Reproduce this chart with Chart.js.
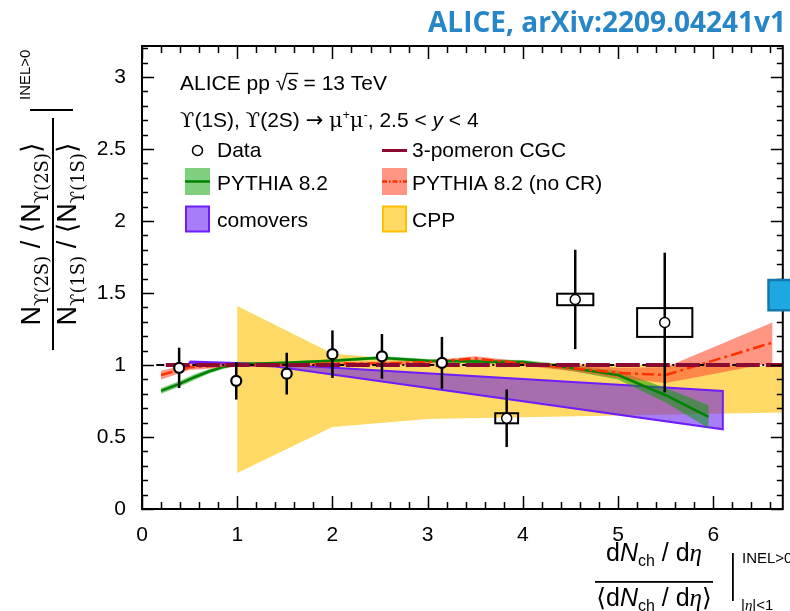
<!DOCTYPE html>
<html lang="en">
<head>
<meta charset="UTF-8">
<title>Upsilon(2S)/Upsilon(1S) self-normalised ratio</title>
<script src="https://cdn.jsdelivr.net/npm/chart.js"></script>
<style>
  html, body { margin: 0; padding: 0; background: #fff; }
  #wrap { width: 790px; height: 611px; }
</style>
</head>
<body>
<div id="wrap"><canvas id="ratioChart" width="790" height="611"></canvas></div>
<script>
// ALICE data points: x, ratio, stat. error, syst. box half sizes
const dataX   = [0.39, 0.99, 1.52, 2.00, 2.52, 3.15, 3.83, 4.55, 5.49];
const dataY   = [0.98, 0.89, 0.94, 1.075, 1.06, 1.015, 0.63, 1.455, 1.295];
const dataErr = [0.14, 0.13, 0.145, 0.165, 0.155, 0.18, 0.20, 0.345, 0.485];
const sysX    = [0.025, 0.025, 0.03, 0.035, 0.035, 0.035, 0.12, 0.19, 0.29];
const sysY    = [0.012, 0.015, 0.015, 0.015, 0.015, 0.015, 0.035, 0.04, 0.10];

// extra box sitting on the right edge
const sideX = [6.9];
const sideY = [1.485];
const sideBoxX = [0.32];
const sideBoxY = [0.105];

// PYTHIA 8.2 (with CR)
const pythiaX   = [0.2, 0.4, 0.55, 0.7, 0.85, 1.0, 1.5, 2.0, 2.5, 3.0, 3.5, 4.0, 4.5, 5.0, 5.5, 5.95];
const pythiaY   = [0.82, 0.87, 0.915, 0.955, 0.985, 1.005, 1.015, 1.03, 1.05, 1.03, 1.025, 1.02, 0.98, 0.93, 0.79, 0.64];
const pythiaErr = [0.02, 0.02, 0.02, 0.015, 0.012, 0.01, 0.01, 0.01, 0.012, 0.012, 0.015, 0.015, 0.02, 0.03, 0.05, 0.08];

// PYTHIA 8.2 (no CR)
const nocrX   = [0.2, 0.5, 1.0, 1.5, 2.0, 2.5, 3.0, 3.5, 4.0, 4.5, 5.0, 5.5, 6.62];
const nocrY   = [0.93, 0.985, 1.0, 1.0, 1.01, 1.01, 1.02, 1.045, 1.01, 0.98, 0.945, 0.93, 1.155];
const nocrErr = [0.03, 0.02, 0.012, 0.01, 0.012, 0.012, 0.012, 0.015, 0.015, 0.02, 0.035, 0.055, 0.14];

// comovers band
const comovX    = [0.5, 1.4, 6.1];
const comovHigh = [1.025, 1.005, 0.82];
const comovLow  = [1.015, 0.99, 0.553];

// CPP band
const cppX    = [1.0, 2.0, 3.0, 6.73];
const cppHigh = [1.41, 1.08, 1.02, 0.99];
const cppLow  = [0.25, 0.57, 0.625, 0.67];

// 3-pomeron CGC and unity reference line
const cgcX = [0.25, 6.73];
const cgcY = [1.0, 1.0];
const unityX = [0.15, 6.73];
const unityY = [1.0, 1.0];

const xTicks = [0, 1, 2, 3, 4, 5, 6];
const yTicks = [0, 0.5, 1, 1.5, 2, 2.5, 3];
const X_MAX = 6.73, Y_MAX = 3.215;

const SANS = "'Liberation Sans', Arial, 'DejaVu Sans', sans-serif";
const SERIF = "'DejaVu Serif', 'Liberation Serif', serif";
const DJV = "'DejaVu Sans', sans-serif";

const pts = (xs, ys) => xs.map((x, i) => ({ x, y: ys[i] }));

// closed outline: upper edge left->right, lower edge back
function band(xs, hi, lo) {
  const out = pts(xs, hi);
  for (let i = xs.length - 1; i >= 0; i--) out.push({ x: xs[i], y: lo[i] });
  out.push({ x: xs[0], y: hi[0] });
  return out;
}

const C = {
  green: 'rgb(0,130,0)', greenBand: 'rgba(0,160,0,0.5)',
  red: 'rgb(255,50,0)', redBand: 'rgba(255,80,50,0.6)',
  purple: 'rgb(110,30,250)', purpleFill: 'rgba(92,16,236,0.54)',
  yellow: 'rgb(255,217,102)', yellowEdge: 'rgb(255,192,0)',
  maroon: 'rgb(140,10,50)', blue: 'rgb(30,167,224)', blueEdge: 'rgb(20,120,170)'
};

// ---- text helpers ----
const P = (t, size, o = {}) => ({ t, f: (o.it ? 'italic ' : '') + size + 'px ' + (o.fam || SANS), dy: o.dy || 0 });
function drawRich(ctx, parts, x, y, align) {
  let w = 0;
  parts.forEach(p => { ctx.font = p.f; w += ctx.measureText(p.t).width; });
  let cx = align === 'center' ? x - w / 2 : (align === 'right' ? x - w : x);
  ctx.textAlign = 'left';
  ctx.textBaseline = 'alphabetic';
  parts.forEach(p => {
    ctx.font = p.f;
    ctx.fillText(p.t, cx, y + p.dy);
    cx += ctx.measureText(p.t).width;
  });
  return w;
}

// error bars + systematic boxes, drawn under the markers
const errorBars = {
  id: 'errorBars',
  beforeDatasetDraw(chart, args) {
    if (args.index !== 0) return;
    const { ctx, scales: { x, y } } = chart;
    ctx.save();
    ctx.strokeStyle = '#000';
    dataX.forEach((vx, i) => {
      const px = x.getPixelForValue(vx);
      ctx.lineWidth = 2.5;
      ctx.beginPath();
      ctx.moveTo(px, y.getPixelForValue(dataY[i] + dataErr[i]));
      ctx.lineTo(px, y.getPixelForValue(dataY[i] - dataErr[i]));
      ctx.stroke();
      const l = x.getPixelForValue(vx - sysX[i]), r = x.getPixelForValue(vx + sysX[i]);
      const t = y.getPixelForValue(dataY[i] + sysY[i]), b = y.getPixelForValue(dataY[i] - sysY[i]);
      ctx.lineWidth = 2;
      ctx.strokeRect(l, t, r - l, b - t);
    });
    ctx.restore();
  }
};

// frame, inward ticks, legend and axis titles
const decorations = {
  id: 'decorations',
  afterDraw(chart) {
    const { ctx, chartArea: a, scales: { x, y } } = chart;
    ctx.save();
    ctx.strokeStyle = '#000';
    ctx.fillStyle = '#000';

    // ticks on all four sides
    ctx.lineWidth = 1.5;
    ctx.beginPath();
    for (let i = 0; i * 0.2 <= X_MAX + 1e-9; i++) {
      const px = Math.round(x.getPixelForValue(i * 0.2)) + 0.5;
      const len = i % 5 === 0 ? 13 : 7;
      ctx.moveTo(px, a.bottom); ctx.lineTo(px, a.bottom - len);
      ctx.moveTo(px, a.top); ctx.lineTo(px, a.top + len);
    }
    for (let i = 0; i * 0.1 <= Y_MAX + 1e-9; i++) {
      const py = Math.round(y.getPixelForValue(i * 0.1)) + 0.5;
      const len = i % 5 === 0 ? 12 : 6;
      ctx.moveTo(a.left, py); ctx.lineTo(a.left + len, py);
      ctx.moveTo(a.right, py); ctx.lineTo(a.right - len, py);
    }
    ctx.stroke();
    ctx.lineWidth = 2;
    ctx.strokeRect(a.left, a.top, a.right - a.left, a.bottom - a.top);

    // box on the right edge
    sideX.forEach((vx, i) => {
      const l = x.getPixelForValue(vx - sideBoxX[i]), r = x.getPixelForValue(vx + sideBoxX[i]);
      const t = y.getPixelForValue(sideY[i] + sideBoxY[i]), b = y.getPixelForValue(sideY[i] - sideBoxY[i]);
      ctx.fillStyle = C.blue;
      ctx.fillRect(l, t, r - l, b - t);
      ctx.strokeStyle = C.blueEdge;
      ctx.lineWidth = 2.5;
      ctx.strokeRect(l, t, r - l, b - t);
    });
    ctx.strokeStyle = '#000';
    ctx.fillStyle = '#000';

    // header text
    const FS = 21;
    drawRich(ctx, [P('ALICE pp ', FS), P('\u221A', FS), P('s', FS, { it: true }), P(' = 13 TeV', FS)], 180, 90, 'left');
    ctx.font = FS + 'px ' + SANS;
    const sx = 180 + ctx.measureText('ALICE pp \u221A').width;
    ctx.lineWidth = 1.3;
    ctx.beginPath(); ctx.moveTo(sx - 1, 73.5); ctx.lineTo(sx + 11, 73.5); ctx.stroke();
    drawRich(ctx, [
      P('\u03D2', FS, { fam: SERIF }), P('(1S), ', FS), P('\u03D2', FS, { fam: SERIF }), P('(2S) ', FS), P('\u2192', FS, { fam: DJV }), P(' ', FS),
      P('\u03BC', FS, { fam: SERIF }), P('+', 12, { dy: -8 }), P('\u03BC', FS, { fam: SERIF }), P('-', 13, { dy: -8 }),
      P(', 2.5 < ', FS), P('y', FS, { it: true }), P(' < 4', FS)
    ], 180, 127, 'left');

    // legend
    ctx.font = FS + 'px ' + SANS;
    ctx.textBaseline = 'alphabetic';
    ctx.lineWidth = 1.5;
    ctx.beginPath(); ctx.arc(197.5, 150.5, 5, 0, Math.PI * 2); ctx.stroke();
    ctx.fillText('Data', 217, 157);
    ctx.strokeStyle = C.maroon; ctx.lineWidth = 3;
    ctx.beginPath(); ctx.moveTo(382, 150.5); ctx.lineTo(407, 150.5); ctx.stroke();
    ctx.fillText('3-pomeron CGC', 412, 157);

    ctx.fillStyle = C.greenBand; ctx.fillRect(185, 168, 25, 27);
    ctx.strokeStyle = C.green; ctx.lineWidth = 2.5;
    ctx.beginPath(); ctx.moveTo(185, 181.5); ctx.lineTo(210, 181.5); ctx.stroke();
    ctx.fillStyle = C.redBand; ctx.fillRect(382, 168, 25, 27);
    ctx.strokeStyle = C.red; ctx.setLineDash([5, 2, 1.5, 2]);
    ctx.beginPath(); ctx.moveTo(382, 181.5); ctx.lineTo(407, 181.5); ctx.stroke();
    ctx.setLineDash([]);
    ctx.fillStyle = '#000';
    ctx.fillText('PYTHIA 8.2', 217, 190);
    ctx.fillText('PYTHIA 8.2 (no CR)', 412, 190);

    ctx.fillStyle = 'rgb(167,126,245)'; ctx.fillRect(186, 206.5, 23, 25);
    ctx.strokeStyle = C.purple; ctx.lineWidth = 2; ctx.strokeRect(186, 206.5, 23, 25);
    ctx.fillStyle = C.yellow; ctx.fillRect(383, 206.5, 23, 25);
    ctx.strokeStyle = C.yellowEdge; ctx.strokeRect(383, 206.5, 23, 25);
    ctx.fillStyle = '#000';
    ctx.fillText('comovers', 217, 227);
    ctx.fillText('CPP', 412, 227);

    // y-axis title (rotated fraction)
    ctx.save();
    ctx.rotate(-Math.PI / 2);
    const num = [P('N', 27), P('\u03D2(2S)', 18, { dy: 8, fam: SERIF }), P(' / ', 27), P('\u27E8', 27, { fam: DJV }),
      P('N', 27), P('\u03D2(2S)', 18, { dy: 8, fam: SERIF }), P('\u27E9', 27, { fam: DJV })];
    const den = [P('N', 27), P('\u03D2(1S)', 18, { dy: 8, fam: SERIF }), P(' / ', 27), P('\u27E8', 27, { fam: DJV }),
      P('N', 27), P('\u03D2(1S)', 18, { dy: 8, fam: SERIF }), P('\u27E9', 27, { fam: DJV })];
    drawRich(ctx, num, -234, 40, 'center');
    drawRich(ctx, den, -234, 76, 'center');
    ctx.fillRect(-350, 52, 232, 2);
    ctx.fillRect(-111, 30, 2, 43);
    ctx.font = '15px ' + SANS;
    ctx.fillText('INEL>0', -100, 30);
    ctx.restore();

    // x-axis title
    const ETA = "'Liberation Serif', serif";
    const xn = [P('d', 25), P('N', 25, { it: true }), P('ch', 16, { dy: 5 }), P(' / d', 25), P('\u03B7', 25, { it: true, fam: ETA })];
    const xd = [P('\u27E8', 25, { fam: DJV }), P('d', 25), P('N', 25, { it: true }), P('ch', 16, { dy: 5 }), P(' / d', 25),
      P('\u03B7', 25, { it: true, fam: ETA }), P('\u27E9', 25, { fam: DJV })];
    drawRich(ctx, xn, 654, 561, 'center');
    ctx.fillRect(595, 581, 118, 1.8);
    drawRich(ctx, xd, 654, 606, 'center');
    ctx.fillRect(732, 553, 1.8, 48);
    ctx.font = '15px ' + SANS;
    ctx.fillText('INEL>0', 742, 563);
    drawRich(ctx, [P('|', 15), P('\u03B7', 15, { it: true, fam: ETA }), P('|<1', 15)], 741, 610, 'left');

    // source tag
    ctx.fillStyle = 'rgb(38,134,200)';
    ctx.font = 'bold 28px "Open Sans", ' + SANS;
    ctx.textAlign = 'right';
    ctx.fillText('ALICE, arXiv:2209.04241v1', 786, 32);
    ctx.restore();
  }
};

const ctx = document.getElementById('ratioChart').getContext('2d');
new Chart(ctx, {
  type: 'scatter',
  data: {
    datasets: [
      { label: 'Data', data: pts(dataX, dataY), order: 0,
        pointRadius: 5, pointBackgroundColor: '#fff', pointBorderColor: '#000',
        pointBorderWidth: c => (c.dataIndex < 6 ? 2.2 : 1.5) },
      { label: '3-pomeron CGC', data: pts(cgcX, cgcY), order: 1, showLine: true, pointRadius: 0,
        borderColor: C.maroon, borderWidth: 4, borderDash: [24, 6] },
      { label: 'unity', data: pts(unityX, unityY), order: 2, showLine: true, pointRadius: 0,
        borderColor: '#000', borderWidth: 2, borderDash: [8, 4, 2, 4] },
      { label: 'PYTHIA 8.2 (no CR)', data: pts(nocrX, nocrY), order: 3, showLine: true, pointRadius: 0,
        borderColor: C.red, borderWidth: 2.5, borderDash: [12, 4, 3, 4] },
      { label: 'PYTHIA 8.2', data: pts(pythiaX, pythiaY), order: 4, showLine: true, pointRadius: 0,
        borderColor: C.green, borderWidth: 2.5 },
      { label: 'no CR band', data: band(nocrX, nocrY.map((v, i) => v + nocrErr[i]), nocrY.map((v, i) => v - nocrErr[i])),
        order: 5, showLine: true, pointRadius: 0, borderWidth: 0, fill: 'shape', backgroundColor: C.redBand },
      { label: 'PYTHIA band', data: band(pythiaX, pythiaY.map((v, i) => v + pythiaErr[i]), pythiaY.map((v, i) => v - pythiaErr[i])),
        order: 6, showLine: true, pointRadius: 0, borderWidth: 0, fill: 'shape', backgroundColor: C.greenBand },
      { label: 'comovers', data: band(comovX, comovHigh, comovLow), order: 7, showLine: true, pointRadius: 0,
        borderColor: C.purple, borderWidth: 2, fill: 'shape', backgroundColor: C.purpleFill },
      { label: 'CPP', data: band(cppX, cppHigh, cppLow), order: 8, showLine: true, pointRadius: 0,
        borderWidth: 0, fill: 'shape', backgroundColor: C.yellow }
    ]
  },
  options: {
    responsive: false,
    animation: false,
    events: [],
    layout: { padding: { top: 46, right: 5, left: 0, bottom: 0 } },
    plugins: { legend: { display: false }, tooltip: { enabled: false } },
    scales: {
      x: {
        type: 'linear', min: 0, max: X_MAX,
        grid: { display: false }, border: { display: false },
        afterBuildTicks: s => { s.ticks = xTicks.map(v => ({ value: v })); },
        afterFit: s => { s.height = 102; },
        ticks: { color: '#000', font: { family: SANS, size: 21 }, padding: 6, maxRotation: 0, callback: v => String(v) }
      },
      y: {
        min: 0, max: Y_MAX,
        grid: { display: false }, border: { display: false },
        afterBuildTicks: s => { s.ticks = yTicks.map(v => ({ value: v })); },
        afterFit: s => { s.width = 142; },
        ticks: { color: '#000', font: { family: SANS, size: 21 }, padding: 8, callback: v => String(v) }
      }
    }
  },
  plugins: [errorBars, decorations]
});
</script>
</body>
</html>
